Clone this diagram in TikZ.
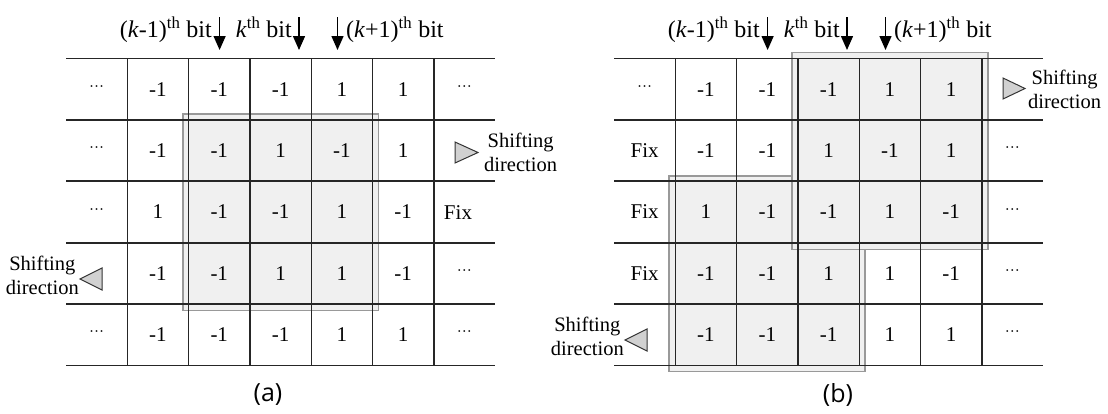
\documentclass[tikz,border=0pt]{standalone}
\usepackage{fontspec}
\setmainfont{Liberation Serif}
\newfontfamily\capfont{Open Sans}
\usetikzlibrary{arrows.meta}
\begin{document}
\begin{tikzpicture}[x=1pt,y=-1pt,
  cell/.style={font=\fontsize{21}{24}\selectfont, inner sep=0pt, anchor=center},
  hline/.style={line width=1.8pt, draw=black!85},
  vline/.style={line width=1.4pt, draw=black!85},
  hlfill/.style={fill=black!6, draw=none},
  hlbox/.style={draw=black!40, line width=1.8pt},
  bitarrow/.style={line width=1.4pt, -{Triangle[length=14pt,width=12pt]}},
  hdr/.style={font=\fontsize{24}{28}\selectfont, inner sep=0pt},
  side/.style={font=\fontsize{20.5}{24}\selectfont, align=center, inner sep=0pt},
  tri/.style={draw=black!80, fill=black!18, line width=1pt, line join=miter},
  caplabel/.style={font=\capfont\fontsize{25}{28}\selectfont, inner sep=0pt},
]
\useasboundingbox (0,0) rectangle (1108,413);
\def\cw{61.3}
\def\rh{61.4}
\def\ya{58.5}
\def\dts{\raisebox{1.5pt}{\fontsize{15}{18}\selectfont\textperiodcentered\textperiodcentered\textperiodcentered}}

% ---------------- highlighted regions ----------------
\fill[hlfill] (182.6,114) rectangle (378.5,310.5);
\fill[hlfill] (792,52.5) rectangle (988,249.5);
\fill[hlfill] (669.3,176) rectangle (865.2,371.5);
\draw[hlbox] (182.6,114) rectangle (378.5,310.5);
\draw[hlbox] (792,52.5) rectangle (988,249.5);
\draw[hlbox] (792,176) -- (669.3,176) -- (669.3,371.5) -- (865.2,371.5) -- (865.2,249.5);

% ---------------- grids ----------------
\foreach \xo in {66,614}{
  \foreach \r in {0,...,5}
    \draw[hline] (\xo,\ya+\r*\rh) -- (\xo+7*\cw,\ya+\r*\rh);
  \foreach \c in {1,...,6}
    \draw[vline] (\xo+\c*\cw,\ya) -- (\xo+\c*\cw,\ya+5*\rh);
}

% ---------------- cell values (a) ----------------
\foreach \row [count=\r from 0] in {
  {\dts,-1,-1,-1,1,1,\dts},
  {\dts,-1,-1,1,-1,1,{}},
  {\dts,1,-1,-1,1,-1,{}},
  {{},-1,-1,1,1,-1,\dts},
  {\dts,-1,-1,-1,1,1,\dts}}{
  \foreach \v [count=\c from 0] in \row
    \node[cell] (a-\r-\c) at (66+\c*\cw+0.5*\cw, \ya+\r*\rh+0.5*\rh) {\v};
}
\node[cell] (afix) at (458,212.7) {Fix};

% ---------------- cell values (b) ----------------
\foreach \row [count=\r from 0] in {
  {\dts,-1,-1,-1,1,1,{}},
  {Fix,-1,-1,1,-1,1,\dts},
  {Fix,1,-1,-1,1,-1,\dts},
  {Fix,-1,-1,1,1,-1,\dts},
  {{},-1,-1,-1,1,1,\dts}}{
  \foreach \v [count=\c from 0] in \row
    \node[cell] (b-\r-\c) at (614+\c*\cw+0.5*\cw, \ya+\r*\rh+0.5*\rh) {\v};
}

% ---------------- headers and bit arrows ----------------
\foreach \dx/\p in {0/a,548/b}{
  \node[hdr, anchor=base east] (\p-h1) at (212+\dx,37.5) {(\textit{k}-1)\textsuperscript{th} bit};
  \node[hdr, anchor=base east] (\p-h2) at (292+\dx,37.5) {\textit{k}\textsuperscript{th} bit};
  \node[hdr, anchor=base west] (\p-h3) at (346+\dx,37.5) {(\textit{k}+1)\textsuperscript{th} bit};
  \coordinate (\p-s1) at (219.6+\dx,17);
  \coordinate (\p-e1) at (219.6+\dx,50);
  \coordinate (\p-s2) at (299+\dx,17);
  \coordinate (\p-e2) at (299+\dx,50);
  \coordinate (\p-s3) at (337.5+\dx,17);
  \coordinate (\p-e3) at (337.5+\dx,50);
  \draw[bitarrow] (\p-s1) -- (\p-e1);
  \draw[bitarrow] (\p-s2) -- (\p-e2);
  \draw[bitarrow] (\p-s3) -- (\p-e3);
}

% ---------------- shifting direction markers ----------------
\draw[tri] (455,142) -- (478,152.5) -- (455,163) -- cycle;
\node[side, anchor=west] (a-sr) at (484,152.5) {Shifting\\direction};
\draw[tri] (102,268) -- (80,279) -- (102,290) -- cycle;
\node[side, anchor=east] (a-sl) at (79,275) {Shifting\\direction};

\draw[tri] (1003,78) -- (1025,88.5) -- (1003,99) -- cycle;
\node[side, anchor=west] (b-sr) at (1028,89.5) {Shifting\\direction};
\draw[tri] (647,329) -- (625,340) -- (647,351) -- cycle;
\node[side, anchor=east] (b-sl) at (624,336) {Shifting\\direction};

% ---------------- captions ----------------
\node[caplabel] (capa) at (268,395) {(a)};
\node[caplabel] (capb) at (838,395) {(b)};
\end{tikzpicture}
\end{document}
